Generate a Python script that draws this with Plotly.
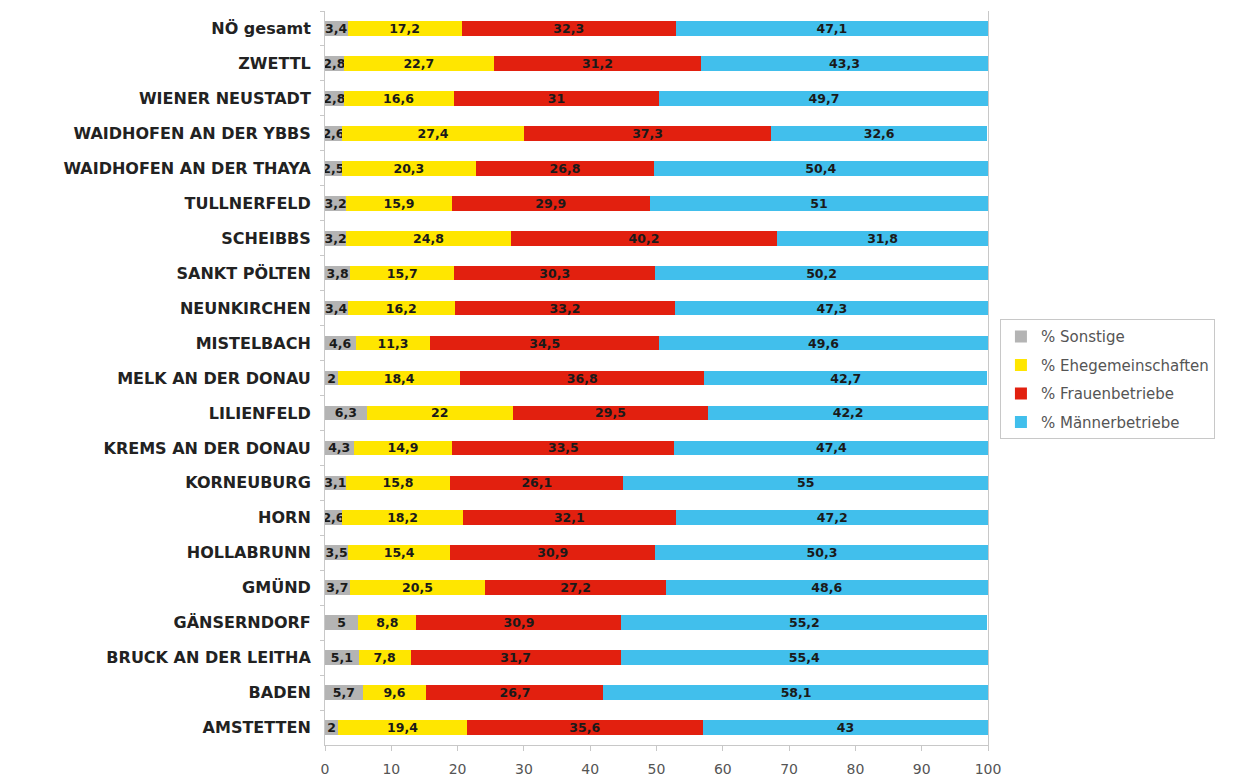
import plotly.graph_objects as go

categories = ["NÖ gesamt", "ZWETTL", "WIENER NEUSTADT", "WAIDHOFEN AN DER YBBS",
              "WAIDHOFEN AN DER THAYA", "TULLNERFELD", "SCHEIBBS", "SANKT PÖLTEN",
              "NEUNKIRCHEN", "MISTELBACH", "MELK AN DER DONAU", "LILIENFELD",
              "KREMS AN DER DONAU", "KORNEUBURG", "HORN", "HOLLABRUNN", "GMÜND",
              "GÄNSERNDORF", "BRUCK AN DER LEITHA", "BADEN", "AMSTETTEN"]

sonstige = [3.4, 2.8, 2.8, 2.6, 2.5, 3.2, 3.2, 3.8, 3.4, 4.6, 2, 6.3, 4.3, 3.1,
            2.6, 3.5, 3.7, 5, 5.1, 5.7, 2]
ehe = [17.2, 22.7, 16.6, 27.4, 20.3, 15.9, 24.8, 15.7, 16.2, 11.3, 18.4, 22, 14.9,
       15.8, 18.2, 15.4, 20.5, 8.8, 7.8, 9.6, 19.4]
frauen = [32.3, 31.2, 31, 37.3, 26.8, 29.9, 40.2, 30.3, 33.2, 34.5, 36.8, 29.5,
          33.5, 26.1, 32.1, 30.9, 27.2, 30.9, 31.7, 26.7, 35.6]
maenner = [47.1, 43.3, 49.7, 32.6, 50.4, 51, 31.8, 50.2, 47.3, 49.6, 42.7, 42.2,
           47.4, 55, 47.2, 50.3, 48.6, 55.2, 55.4, 58.1, 43]

series = [
    ("% Sonstige", sonstige, "#b4b4b4"),
    ("% Ehegemeinschaften", ehe, "#ffe600"),
    ("% Frauenbetriebe", frauen, "#e2200f"),
    ("% Männerbetriebe", maenner, "#41bfec"),
]

def fmt(v):
    return ("%g" % v).replace(".", ",")

fig = go.Figure()
for name, vals, col in series:
    fig.add_trace(go.Bar(
        y=categories, x=vals, name=name, orientation="h",
        legendgroup=name,
        marker=dict(color=col, line=dict(width=0)),
        text=[fmt(v) for v in vals], textposition="inside",
        insidetextanchor="middle", textangle=0,
        textfont=dict(family="DejaVu Sans", size=12.5, color="#1a1a1a",
                      weight="bold"),
        width=0.42,
    ))

fig.update_layout(
    barmode="stack",
    width=1250, height=778,
    margin=dict(l=317, r=270, t=3, b=41),
    paper_bgcolor="white", plot_bgcolor="white",
    uniformtext=dict(mode="show", minsize=12.5),
    font=dict(family="DejaVu Sans", color="#333333"),
    legend=dict(
        x=1.018, y=0.58, xanchor="left", yanchor="top",
        bordercolor="#c8c8c8", borderwidth=1,
        font=dict(family="DejaVu Sans", size=15, color="#555555"),
        traceorder="grouped", itemwidth=30,
        tracegroupgap=6,
    ),
    xaxis=dict(
        range=[0, 100], dtick=10, showgrid=False, zeroline=False,
        showline=True, linecolor="#c8c8c8", linewidth=1,
        ticks="outside", ticklen=5, tickcolor="#c8c8c8",
        tickfont=dict(family="DejaVu Sans", size=14, color="#555555"),
        ticklabelstandoff=6,
    ),
    yaxis=dict(
        autorange="reversed", showline=True, mirror=True,
        linecolor="#c8c8c8", linewidth=1,
        ticks="outside", ticklen=4, tickcolor="#c8c8c8", tickson="boundaries",
        tickfont=dict(family="DejaVu Sans", size=16, color="#222222", weight="bold"),
        ticklabelstandoff=10,
    ),
)

fig.write_html("out.html")
